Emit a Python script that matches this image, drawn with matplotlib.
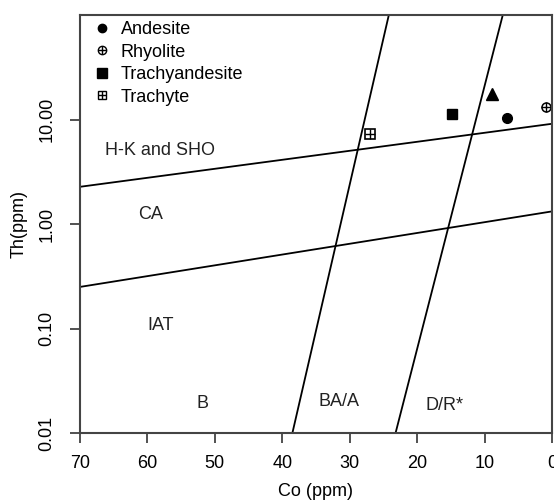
import matplotlib
matplotlib.use("Agg")
from matplotlib import pyplot as plt
from matplotlib.lines import Line2D

plt.rcParams['font.family'] = ['Liberation Sans', 'DejaVu Sans']

# samples: Co (ppm), Th (ppm)
andesite_co = [6.6]
andesite_th = [10.3]
rhyolite_co = [0.9]
rhyolite_th = [13.3]
trachyandesite_co = [14.8]
trachyandesite_th = [11.3]
trachyte_co = [27.0]
trachyte_th = [7.2]
other_co = [8.9]
other_th = [17.5]

# field boundaries (Co, Th) end points
hk_line = ([70, 0], [2.27, 9.1])
ca_line = ([70, 0], [0.25, 1.32])
baa_line = ([38.5, 24.2], [0.01, 100])
dr_line = ([23.2, 7.3], [0.01, 100])

# field names and where they go
fields = ["H-K and SHO", "CA", "IAT", "B", "BA/A", "D/R*"]
field_co = [58.1, 59.6, 58.1, 51.8, 31.6, 15.9]
field_th = [5.1, 1.22, 0.106, 0.019, 0.0202, 0.0185]

xticks = [70, 60, 50, 40, 30, 20, 10, 0]
yticks = [0.01, 0.1, 1, 10]
ytick_labels = ["0.01", "0.10", "1.00", "10.00"]

fig = plt.figure(figsize=(5.54, 5.01), dpi=100)
ax = fig.add_axes([80 / 554, 1 - 433 / 501, 472 / 554, 418 / 501])

for line in [hk_line, ca_line, baa_line, dr_line]:
    ax.plot(line[0], line[1], color='black', lw=1.3)

ax.plot(andesite_co, andesite_th, 'o', color='black', ms=7)
ax.plot(rhyolite_co, rhyolite_th, 'o', mfc='white', mec='black', mew=1.1, ms=6.5)
ax.plot(rhyolite_co, rhyolite_th, '+', color='black', mew=1.0, ms=6.5)
ax.plot(trachyandesite_co, trachyandesite_th, 's', color='black', ms=6.5)
ax.plot(trachyte_co, trachyte_th, 's', mfc='white', mec='black', mew=1.2, ms=7)
ax.plot(trachyte_co, trachyte_th, '+', color='black', mew=1.0, ms=7)
ax.plot(other_co, other_th, '^', color='black', ms=8)

for name, c, t in zip(fields, field_co, field_th):
    ax.text(c, t, name, ha='center', va='center', fontsize=13, color='#222222')

ax.set_yscale('log')
ax.set_xlim(70, 0)
ax.set_ylim(0.01, 100)
ax.set_xticks(xticks)
ax.set_xticklabels([str(v) for v in xticks], fontsize=13)
ax.set_yticks(yticks)
ax.set_yticklabels(ytick_labels, fontsize=13, rotation=90, va='center')
ax.minorticks_off()
ax.tick_params(direction='out', length=7, width=1.2, color='#333333')
ax.tick_params(axis='x', pad=8.5)
ax.tick_params(axis='y', pad=10.5)
for s in ax.spines.values():
    s.set_linewidth(1.5)
    s.set_color('#444444')
ax.set_xlabel("Co (ppm)", fontsize=13, labelpad=8)
ax.set_ylabel("Th(ppm)", fontsize=13, labelpad=8)

ms = 6
handles = [
    Line2D([], [], marker='o', ls='', color='black', ms=ms),
    (Line2D([], [], marker='o', ls='', mfc='white', mec='black', ms=ms),
     Line2D([], [], marker='+', ls='', color='black', ms=ms)),
    Line2D([], [], marker='s', ls='', color='black', ms=ms + 1),
    (Line2D([], [], marker='s', ls='', mfc='white', mec='black', ms=ms),
     Line2D([], [], marker='+', ls='', color='black', ms=ms)),
]
labels = ["Andesite", "Rhyolite", "Trachyandesite", "Trachyte"]
ax.legend(handles, labels, loc='upper left', bbox_to_anchor=(0.023, 0.985),
          frameon=False, fontsize=13, borderpad=0, borderaxespad=0,
          handlelength=1.2, handletextpad=0.45, labelspacing=0.3)

fig.savefig("out.png", dpi=100)
